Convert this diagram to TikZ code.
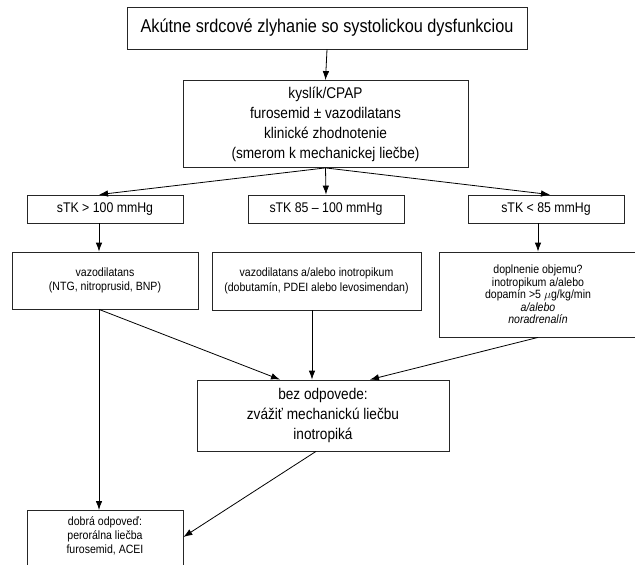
\documentclass[tikz,border=0pt]{standalone}
\usepackage{fontspec}
\setmainfont{Liberation Sans}[FakeStretch=0.88]
\usetikzlibrary{arrows.meta,calc}
\begin{document}
\begin{tikzpicture}[x=1pt,y=-1pt,
  box/.style={draw=black!85,line width=0.8pt,inner sep=0pt,align=center},
  arr/.style={draw=black,line width=0.8pt,-{Latex[length=9pt,width=6.5pt]}},
  big/.style={font=\fontsize{15.5}{20}\selectfont},
  mid/.style={font=\fontsize{14}{16}\selectfont},
  small/.style={font=\fontsize{12}{14.3}\selectfont},
  tiny/.style={font=\fontsize{12}{12.5}\selectfont}]
\useasboundingbox (0,0) rectangle (635,565);

% title
\node[box,minimum width=400,minimum height=42,font=\fontsize{18.5}{22}\selectfont]
  (title) at (327,28) {Akútne srdcové zlyhanie so systolickou dysfunkciou};

% initial care
\node[box,big,minimum width=285,minimum height=87] (care) at (325.5,124)
  {kyslík/CPAP\\furosemid ± vazodilatans\\klinické zhodnotenie\\(smerom k mechanickej liečbe)};

% blood pressure branches
\node[box,mid,minimum width=156,minimum height=28] (sL) at (105,209) {sTK > 100 mmHg};
\node[box,mid,minimum width=156,minimum height=28] (sM) at (326,209) {sTK 85 – 100 mmHg};
\node[box,mid,minimum width=156,minimum height=28] (sR) at (546,209) {sTK < 85 mmHg};

% treatment per branch
\node[box,small,minimum width=186,minimum height=57] (tL) at (105,280.5)
  {vazodilatans\\(NTG, nitroprusid, BNP)};
\node[box,small,minimum width=209,minimum height=58] (tM) at (316.5,281)
  {vazodilatans a/alebo inotropikum\\(dobutamín, PDEI alebo levosimendan)};
\node[box,tiny,minimum width=198,minimum height=85] (tR) at (538,294.5)
  {doplnenie objemu?\\inotropikum a/alebo\\dopamín >5 $\mu$g/kg/min\\\textit{a/alebo}\\\textit{noradrenalín}};

% no response
\node[box,big,minimum width=252,minimum height=71] (bez) at (323,415.5)
  {bez odpovede:\\zvážiť mechanickú liečbu\\inotropiká};

% good response
\node[box,small,minimum width=156,anchor=north,inner ysep=6pt,text depth=45pt] (dobra) at (105,510)
  {dobrá odpoveď:\\perorálna liečba\\furosemid, ACEI};

% connectors
\draw[arr] (title.south) -- (care.north);
\draw[arr] (care.south) -- ([xshift=-6pt]sL.north);
\draw[arr] (care.south) -- (sM.north);
\draw[arr] (care.south) -- ([xshift=4pt]sR.north);
\draw[arr] ([xshift=-6pt]sL.south) -- ([xshift=-6pt]tL.north);
\draw[arr] ([xshift=-8pt]sR.south) -- (tR.north);
\draw[arr] ([xshift=-6pt]tL.south) -- ([xshift=-43pt]bez.north);
\draw[arr] ([xshift=-4.5pt]tM.south) -- ([xshift=-11pt]bez.north);
\draw[arr] (tR.south) -- ([xshift=47pt]bez.north);
\draw[arr] ([xshift=-6pt]tL.south) -- ([xshift=-6pt]dobra.north);
\draw[arr] ([xshift=-7pt]bez.south) -- ($(dobra.north east)+(0,27)$);
\end{tikzpicture}
\end{document}
